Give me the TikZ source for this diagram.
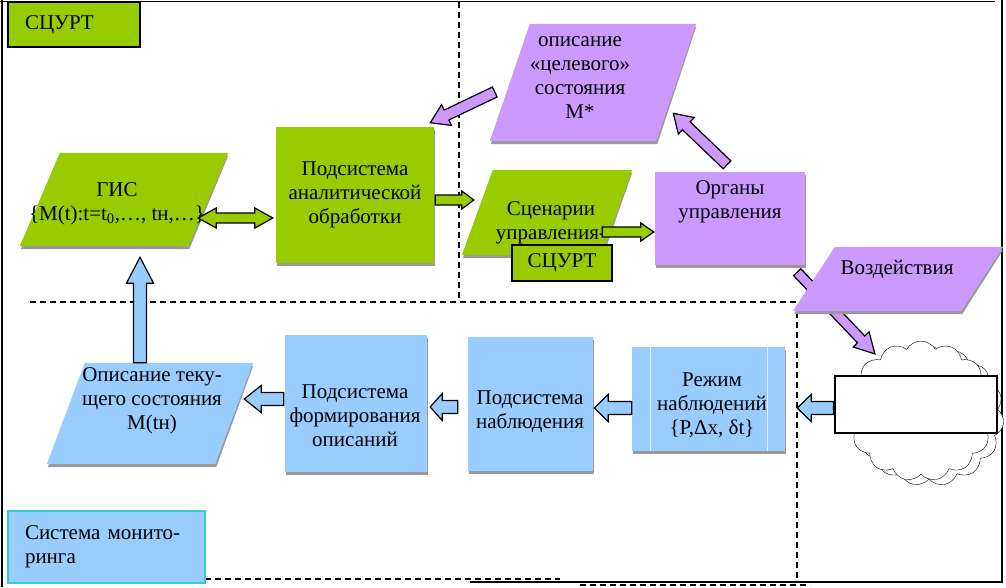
\documentclass[tikz,border=0pt]{standalone}
\usepackage{fontspec}
\setmainfont{Liberation Serif}
\usetikzlibrary{calc,shapes.symbols,shadows}
\definecolor{cgreen}{HTML}{99CC00}
\definecolor{cpurple}{HTML}{CC99FF}
\definecolor{cblue}{HTML}{99CCFF}
\definecolor{cteal}{HTML}{33CCCC}
\definecolor{cshadow}{HTML}{9A9A9A}
\tikzset{
  txt/.style={align=center, inner sep=0pt, font=\fontsize{21}{24}\selectfont},
  rbox/.style={rectangle, inner sep=0pt, general shadow={fill=cshadow, shadow xshift=1pt, shadow yshift=-3pt}},
  frameline/.style={line width=1.3pt},
  dashline/.style={line width=1.2pt, dash pattern=on 6pt off 4pt},
  arrline/.style={line width=1.2pt, draw=black, line join=miter},
  lblbox/.style={draw=black, line width=1.3pt, inner xsep=17pt, align=left, font=\fontsize{21}{24}\selectfont},
  cloudshape/.style={cloud, draw, thin, fill=white, cloud puffs=15, cloud puff arc=120, aspect=1, minimum width=150pt, minimum height=140pt},
}
\newcommand\blockarrow[6]{%
  \draw[arrline, fill=#3] let \p1=#1, \p2=#2,
    \n1={atan2(\y2-\y1,\x2-\x1)}, \n2={veclen(\x2-\x1,\y2-\y1)} in
    [shift={(\p1)}, rotate=\n1]
    (0pt,{-#4*1pt}) -- ({(\n2-#6)*1pt},{-#4*1pt}) -- ({(\n2-#6)*1pt},{-#5*1pt}) -- ({\n2*1pt},0pt)
    -- ({(\n2-#6)*1pt},{#5*1pt}) -- ({(\n2-#6)*1pt},{#4*1pt}) -- (0pt,{#4*1pt}) -- cycle;}
\newcommand\dblarrow[6]{%
  \draw[arrline, fill=#3] let \p1=#1, \p2=#2,
    \n1={atan2(\y2-\y1,\x2-\x1)}, \n2={veclen(\x2-\x1,\y2-\y1)} in
    [shift={(\p1)}, rotate=\n1]
    (0pt,0pt) -- ({#6*1pt},{#5*1pt}) -- ({#6*1pt},{#4*1pt}) -- ({(\n2-#6)*1pt},{#4*1pt})
    -- ({(\n2-#6)*1pt},{#5*1pt}) -- ({\n2*1pt},0pt) -- ({(\n2-#6)*1pt},{-#5*1pt})
    -- ({(\n2-#6)*1pt},{-#4*1pt}) -- ({#6*1pt},{-#4*1pt}) -- ({#6*1pt},{-#5*1pt}) -- cycle;}
% parallelogram: name, x1, x2, y1, y2, slant, fill
\newcommand\parabox[7]{%
  \node[inner sep=0pt, minimum width={#3-#2}, minimum height={#5-#4}] (#1) at ({(#2+#3)/2},{(#4+#5)/2}) {};
  \fill[cshadow] ($(#1.south west)+(1,3)$) -- ($(#1.south east)+(1-#6,3)$) -- ($(#1.north east)+(0,3)$) -- ($(#1.north west)+(#6,3)$) -- cycle;
  \fill[#7] (#1.south west) -- ($(#1.south east)+(-#6,0)$) -- (#1.north east) -- ($(#1.north west)+(#6,0)$) -- cycle;}
\begin{document}
\begin{tikzpicture}[x=1pt,y=-1pt]
\useasboundingbox (0,0) rectangle (1006,587);
% frame and dashed separators
\draw[frameline] (2,0) -- (2,587);
\draw[frameline] (0,1.5) -- (995,1.5);
\draw[frameline] (1002,0) -- (1002,583);
\draw[frameline] (470,582) -- (1002,582);
\draw[dashline] (205,579) -- (560,579);
\draw[dashline] (580,585) -- (810,585);
\draw[dashline] (459,2) -- (459,298);
\draw[dashline] (30,302) -- (797,302);
\draw[dashline] (797,312) -- (797,580);

% upper part
\node[lblbox, fill=cgreen, minimum width=132pt, minimum height=45pt, text width=98pt] (lab1) at (74,24.5) {СЦУРТ};
\parabox{gis}{20}{228}{153}{246}{40}{cgreen}
\node[txt] (gist) at (117,204) {ГИС\\\{M(t):t=t\textsubscript{0},…, tн,…\}};
\node[rbox, txt, fill=cgreen, minimum width=158pt, minimum height=136pt] (ana) at (355,195) {Подсистема\\аналитической\\обработки};
\parabox{tgt}{490}{696}{24}{141}{40}{cpurple}
\node[txt] (tgtt) at (580,78) {описание\\«целевого»\\состояния\\М*};
\parabox{scn}{462}{632}{170}{255}{31}{cgreen}
\node[txt] (scnt) at (551,223) {Сценарии\\управления-};
\node[rbox, fill=cpurple, minimum width=150pt, minimum height=93pt] (org) at (730,218.5) {};
\node[txt] (orgt) at (730,202) {Органы\\управления};

% cloud and white box
\node[cloudshape] (cl2) at (929,416) {};
\node[cloudshape] (cl) at (921,411) {};

% arrow to the cloud, under Воздействия
\blockarrow{($(org.south east)+(-8,7)$)}{($(cl.center)+(-46,-57)$)}{cpurple}{5}{11}{20}
\parabox{vzd}{793}{1003}{247}{311}{42}{cpurple}
\node[txt] (vzdt) at (897,269) {Воздействия};

\node[draw, fill=white, line width=1.2pt, minimum width=162pt, minimum height=57pt] (wr) at (916,404.5) {};

% lower part
\node[rbox, fill=cblue, minimum width=153pt, minimum height=104pt] (rez) at (708.5,399) {};
\draw[white!75!cblue, line width=1pt] ($(rez.north west)+(19,0)$) -- ($(rez.south west)+(19,0)$);
\draw[white!75!cblue, line width=1pt] ($(rez.north east)+(-18,0)$) -- ($(rez.south east)+(-18,0)$);
\node[txt] (rezt) at (712,405) {Режим\\наблюдений\\\{P,Δx, δt\}};
\node[rbox, fill=cblue, minimum width=125pt, minimum height=134pt] (nab) at (530.5,404) {};
\node[txt] (nabt) at (530,412) {Подсистема\\наблюдения};
\node[rbox, fill=cblue, minimum width=142pt, minimum height=137pt] (frm) at (356,403.5) {};
\node[txt] (frmt) at (355,416) {Подсистема\\формирования\\описаний};
\parabox{cur}{47}{253}{363}{464}{38}{cblue}
\node[txt] (curt) at (152,401) {Описание теку-\\щего состояния\\M(tн)};
\node[lblbox, draw=cteal, fill=cblue, minimum width=197pt, minimum height=72pt, text width=163pt] (mon) at (106.5,547) {Система монито-\\ринга};

% connectors
\dblarrow{($(gis.east)+(-30,18.5)$)}{($(ana.west)+(-3,23)$)}{cgreen}{5}{10}{18}
\blockarrow{($(ana.east)+(1,5)$)}{($(scn.west)+(12,-12.5)$)}{cgreen}{5}{9}{12}
\blockarrow{($(tgt.west)+(5,9.5)$)}{($(ana.north east)+(-4,-4)$)}{cpurple}{5.5}{11.5}{18}
\blockarrow{($(org.north)+(-3,-7)$)}{($(tgt.south east)+(-23,-28)$)}{cpurple}{5.5}{11.5}{18}
\blockarrow{($(scn.east)+(-30,19.5)$)}{($(org.west)+(-1,13.5)$)}{cgreen}{5}{9}{13}
\node[lblbox, fill=cgreen, minimum width=100pt, minimum height=36pt, inner xsep=0pt, align=center] (sc2) at (562,263) {СЦУРТ};
\blockarrow{($(wr.west)+(-1,3.5)$)}{($(rez.east)+(12,9)$)}{cblue}{6.5}{13.5}{14}
\blockarrow{($(rez.west)+(0,9)$)}{($(nab.east)+(1,4)$)}{cblue}{6.5}{13.5}{14}
\blockarrow{($(nab.west)+(-10,3)$)}{($(frm.east)+(3,3.5)$)}{cblue}{6.5}{13.5}{12}
\blockarrow{($(frm.west)+(-1,-4.5)$)}{($(cur.east)+(-9,-14.5)$)}{cblue}{6.5}{13.5}{17}
\blockarrow{($(cur.north)+(-10,0)$)}{($(gis.south)+(16,11)$)}{cblue}{6.5}{13.5}{26}
\end{tikzpicture}
\end{document}
